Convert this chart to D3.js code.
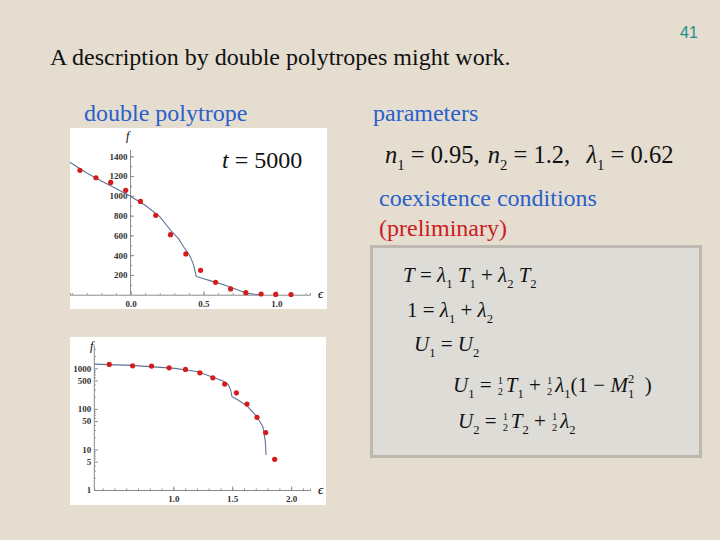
<!DOCTYPE html>
<html><head><meta charset="utf-8">
<script src="https://cdn.jsdelivr.net/npm/d3@7"></script>
<style>
html,body{margin:0;padding:0;background:#e4ddd0;}
svg{display:block;font-family:"Liberation Serif","Times New Roman",serif;}
</style></head>
<body>
<svg id="c" width="720" height="540"></svg>
<script>
// ---------- data ----------
const topEps = [-0.347,-0.237,-0.136,-0.033,0.068,0.173,0.274,0.379,0.48,0.583,0.686,0.79,0.895,0.995,1.1];
const topF   = [1258,1183,1136,1056,944,803,607,412,247,125,58,20,7,3,2];
const topCurveEps = [-0.416,-0.3,-0.2,-0.1,0,0.1,0.2,0.283,0.33,0.363,0.39,0.409,0.425,0.432,0.443,0.45,0.55,0.65,0.75,0.79,0.85,0.89];
const topCurveF   = [1339,1232,1150,1075,995,905,790,637,565,485,430,384,330,300,233,185,140,95,40,16,4,0];
const topXTicks = [0, 0.5, 1.0];
const topXTickLabels = ["0.0","0.5","1.0"];
const topYTicks = [200,400,600,800,1000,1200,1400];

const botEps = [0.456,0.654,0.815,0.964,1.103,1.225,1.335,1.436,1.535,1.625,1.71,1.784,1.86];
const botF   = [1247,1153,1133,1028,940,775,584,408,249,131,62,26,5.7];
const botCurveEps = [0.329,0.646,1.013,1.21,1.324,1.422,1.465,1.487,1.498,1.549,1.625,1.71,1.761,1.781,1.787];
const botCurveF   = [1268,1178,994,820,618,484,401,290,199,165,119,64,36,15.5,7.3];
const botXTicks = [1.0, 1.5, 2.0];
const botXTickLabels = ["1.0","1.5","2.0"];
const botYTicks = [1,5,10,50,100,500,1000];

// ---------- slide ----------
const SERIF = "'Liberation Serif','Times New Roman',serif";
const svg = d3.select("#c");
svg.append("rect").attr("width",720).attr("height",540).attr("fill","#e4ddd0");

function txt(x,y,s,fs,col){
  return svg.append("text").attr("x",x).attr("y",y).attr("fill",col||"#111")
    .style("font-family",SERIF).style("font-size",fs+"px").text(s);
}
svg.append("text").attr("x",680).attr("y",38).attr("fill","#1f8f86")
  .style("font-family","'Liberation Sans',Arial,sans-serif").style("font-size","16px").text("41");
txt(50,65,"A description by double polytropes might work.",24,"#111");
txt(84,121,"double polytrope",24,"#2a5fcc");
txt(373,121,"parameters",24,"#2a5fcc");
txt(379,206,"coexistence conditions",24,"#2a5fcc");
txt(379,236,"(preliminary)",24,"#cc2020");

// coexistence box
svg.append("rect").attr("x",371.5).attr("y",246.5).attr("width",329).attr("height",210)
  .attr("fill","#dedcd6").attr("stroke","#bdb8b0").attr("stroke-width",3);

// equation renderer
const nb = s => s.replace(/ /g,"\u00A0");
function drawEq(g, x, y, fs, parts){
  let cx = x;
  parts.forEach(p=>{
    if (p.frac){
      const s = fs*0.5;
      g.append("text").attr("x",cx+3.5).attr("y",y-fs*0.36).attr("text-anchor","middle")
        .style("font-family",SERIF).style("font-size",s+"px").attr("fill","#111").text(p.frac[0]);
      g.append("text").attr("x",cx+3.5).attr("y",y+fs*0.16).attr("text-anchor","middle")
        .style("font-family",SERIF).style("font-size",s+"px").attr("fill","#111").text(p.frac[1]);
      cx += 9;
      return;
    }
    const small = p.sub||p.sup;
    const t = g.append("text").attr("x",cx)
      .attr("y", y + (p.sub ? fs*0.28 : p.sup ? -fs*0.45 : 0))
      .style("font-family",SERIF)
      .style("font-size",(small?fs*0.6:fs)+"px")
      .style("font-style",p.i?"italic":"normal")
      .attr("fill","#111")
      .text(nb(p.t));
    cx += t.node().getComputedTextLength() + (p.gap||0);
  });
}
const I = t=>({t,i:true}), N = t=>({t}), S = t=>({t,sub:true}), P = t=>({t,sup:true});
const G = (t,gap)=>({t,gap});

const eqG = svg.append("g");
drawEq(eqG, 385, 163, 24.5, [I("n"),S("1"),G(" = 0.95, ",2),I("n"),S("2"),G(" = 1.2,  ",4),I("λ"),S("1"),N(" = 0.62")]);
drawEq(eqG, 403, 282, 21, [I("T"),N(" = "),I("λ"),S("1"),N(" "),I("T"),S("1"),N(" + "),I("λ"),S("2"),N(" "),I("T"),S("2")]);
drawEq(eqG, 407, 317, 21, [N("1 = "),I("λ"),S("1"),N(" + "),I("λ"),S("2")]);
drawEq(eqG, 414, 351, 21, [I("U"),S("1"),N(" = "),I("U"),S("2")]);
drawEq(eqG, 453, 392, 21, [I("U"),S("1"),N(" = "),{frac:["1","2"]},I("T"),S("1"),N(" + "),{frac:["1","2"]},I("λ"),S("1"),N("(1 − "),I("M"),{t:"2",sup:true,gap:-6.3},S("1"),N("  )")]);
drawEq(eqG, 458, 428, 21, [I("U"),S("2"),N(" = "),{frac:["1","2"]},I("T"),S("2"),N(" + "),{frac:["1","2"]},I("λ"),S("2")]);

// ---------- top plot ----------
const axisCol = "#8a8a8a", lblCol = "#333";
function styleLbl(g){ g.selectAll("text").attr("fill",lblCol).style("font-size","9px").style("font-weight","bold").style("font-family",SERIF); }

svg.append("rect").attr("x",70).attr("y",128).attr("width",257).attr("height",181).attr("fill","#ffffff");
const xT = d3.scaleLinear().domain([-0.415,1.23]).range([70,310]);
const yT = d3.scaleLinear().domain([0,1400]).range([294.7,156.3]);
const gT = svg.append("g");

gT.append("g").attr("transform",`translate(0,${yT(0)})`)
  .call(d3.axisBottom(xT).tickValues(d3.range(-4,13).map(d=>d/10)).tickSize(-1.5).tickFormat(""))
  .call(g=>g.select(".domain").attr("stroke",axisCol))
  .call(g=>g.selectAll("line").attr("stroke",axisCol));
gT.append("g").attr("transform",`translate(0,${yT(0)})`)
  .call(d3.axisBottom(xT).tickValues(topXTicks).tickSize(-3.5).tickPadding(6).tickFormat((d,i)=>topXTickLabels[i]))
  .call(g=>g.select(".domain").remove())
  .call(g=>g.selectAll("line").attr("stroke",axisCol))
  .call(styleLbl);
gT.append("g").attr("transform",`translate(${xT(0)},0)`)
  .call(d3.axisLeft(yT).tickValues(d3.range(100,1500,100)).tickSize(-1.5).tickFormat(""))
  .call(g=>g.select(".domain").attr("stroke",axisCol).attr("d",`M0,${yT(0)}V${yT(1465)}`))
  .call(g=>g.selectAll("line").attr("stroke",axisCol));
gT.append("g").attr("transform",`translate(${xT(0)},0)`)
  .call(d3.axisLeft(yT).tickValues(topYTicks).tickSize(-3.5).tickPadding(3).tickFormat(d3.format("d")))
  .call(g=>g.select(".domain").remove())
  .call(g=>g.selectAll("line").attr("stroke",axisCol))
  .call(styleLbl);
gT.append("text").attr("x",126).attr("y",140).style("font-family",SERIF).style("font-size","12px").style("font-style","italic").text("f");
gT.append("text").attr("x",318).attr("y",298).style("font-family",SERIF).style("font-size","13px").style("font-style","italic").text("ϵ");

const lineT = d3.line().x(i=>xT(topCurveEps[i])).y(i=>yT(topCurveF[i]));
gT.append("path").attr("d",lineT(d3.range(topCurveEps.length))).attr("fill","none").attr("stroke","#5f7396").attr("stroke-width",1.1);
gT.selectAll("circle").data(d3.range(topEps.length)).join("circle")
  .attr("cx",i=>xT(topEps[i])).attr("cy",i=>yT(topF[i])).attr("r",2.6).attr("fill","#d41c1c");
drawEq(gT, 222, 168, 24, [I("t"),N(" = 5000")]);

// ---------- bottom plot ----------
svg.append("rect").attr("x",70).attr("y",337).attr("width",256).attr("height",168).attr("fill","#ffffff");
const xB = d3.scaleLinear().domain([0.329,2.16]).range([94.3,310]);
const yB = d3.scaleLog().domain([1,1000]).range([490,368.3]);
const gB = svg.append("g");
gB.append("g").attr("transform",`translate(0,490)`)
  .call(d3.axisBottom(xB).tickValues(d3.range(4,22).map(d=>d/10)).tickSize(-1.5).tickFormat(""))
  .call(g=>g.select(".domain").attr("stroke",axisCol))
  .call(g=>g.selectAll("line").attr("stroke",axisCol));
gB.append("g").attr("transform",`translate(0,490)`)
  .call(d3.axisBottom(xB).tickValues(botXTicks).tickSize(-3.5).tickPadding(6).tickFormat((d,i)=>botXTickLabels[i]))
  .call(g=>g.select(".domain").remove())
  .call(g=>g.selectAll("line").attr("stroke",axisCol))
  .call(styleLbl);
const minorLog = [];
[1,10,100,1000].forEach(b=>[2,3,4,6,7,8,9].forEach(m=>{ if (b*m<3700) minorLog.push(b*m); }));
gB.append("g").attr("transform",`translate(94.3,0)`)
  .call(d3.axisLeft(yB).tickValues(minorLog).tickSize(-1.5).tickFormat(""))
  .call(g=>g.select(".domain").attr("stroke",axisCol).attr("d",`M0,490V${yB(3700)}`))
  .call(g=>g.selectAll("line").attr("stroke",axisCol));
gB.append("g").attr("transform",`translate(94.3,0)`)
  .call(d3.axisLeft(yB).tickValues(botYTicks).tickSize(-3.5).tickPadding(3).tickFormat(d3.format("d")))
  .call(g=>g.select(".domain").remove())
  .call(g=>g.selectAll("line").attr("stroke",axisCol))
  .call(styleLbl);
gB.append("text").attr("x",90).attr("y",350).style("font-family",SERIF).style("font-size","12px").style("font-style","italic").text("f");
gB.append("text").attr("x",318).attr("y",494).style("font-family",SERIF).style("font-size","13px").style("font-style","italic").text("ϵ");

gB.append("path").attr("d",d3.line().x(i=>xB(botCurveEps[i])).y(i=>yB(botCurveF[i]))(d3.range(botCurveEps.length)))
  .attr("fill","none").attr("stroke","#5f7396").attr("stroke-width",1.1);
gB.selectAll("circle").data(d3.range(botEps.length)).join("circle")
  .attr("cx",i=>xB(botEps[i])).attr("cy",i=>yB(botF[i])).attr("r",2.6).attr("fill","#d41c1c");
</script>
</body></html>
